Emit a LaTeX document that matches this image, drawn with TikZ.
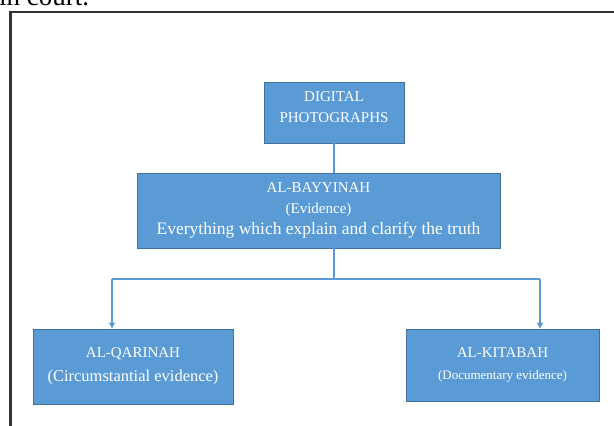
\documentclass[tikz,border=0pt]{standalone}
\usepackage{fontspec}
\setmainfont{Liberation Serif}
\usetikzlibrary{arrows.meta}
\definecolor{boxfill}{HTML}{5B9BD5}
\definecolor{boxline}{HTML}{41719C}
\definecolor{frame}{HTML}{333333}
\tikzset{
  box/.style={draw=boxline, line width=0.9pt, fill=boxfill, text=white, align=center,
    inner sep=0pt, anchor=center, font=\fontsize{15}{20}\selectfont},
  conn/.style={draw=boxfill, line width=1.2pt},
  arr/.style={conn, -{Triangle[length=6pt,width=6pt]}}
}
\newcommand{\bigline}[1]{{\fontsize{17.5}{21}\selectfont #1}}
\begin{document}
\begin{tikzpicture}[x=1pt,y=-1pt]
\useasboundingbox (0,0) rectangle (614,426);
\clip (0,0) rectangle (614,426);
\fill[white] (0,0) rectangle (614,426);
\node[anchor=base west, inner sep=0pt, font=\fontsize{27}{30}\selectfont] (cap) at (-1,5) {in court.};
\draw[frame, line width=2.6pt] (10.5,440) -- (10.5,12) -- (630,12);

\node[box, minimum width=140pt, minimum height=61pt, font=\fontsize{15}{21}\selectfont, text depth=11pt] (top) at (334,112.5) {DIGITAL\\PHOTOGRAPHS};
\node[box, minimum width=363pt, minimum height=75pt, font=\fontsize{15}{21}\selectfont] (mid) at (318.5,210.5)
  {AL-BAYYINAH\\(Evidence)\\\bigline{Everything which explain and clarify the truth}};
\node[box, minimum width=200pt, minimum height=75pt, font=\fontsize{15}{24}\selectfont] (left) at (133,366.5) {AL-QARINAH\\{\fontsize{16.5}{24}\selectfont (Circumstantial evidence)}};
\node[box, minimum width=193pt, minimum height=72pt, font=\fontsize{13}{22}\selectfont] (right) at (502.5,365) {{\fontsize{15}{22}\selectfont AL-KITABAH}\\(Documentary evidence)};

\coordinate (hub) at (334,279);
\coordinate (bl) at (112,279);
\coordinate (br) at (540,279);
\draw[conn] (top.south) -- (top.south |- mid.north);
\draw[conn] (top.south |- mid.south) -- (hub);
\draw[conn] (bl) -- (br);
\draw[arr] (bl) -- (bl |- left.north);
\draw[arr] (br) -- (br |- right.north);
\end{tikzpicture}
\end{document}
